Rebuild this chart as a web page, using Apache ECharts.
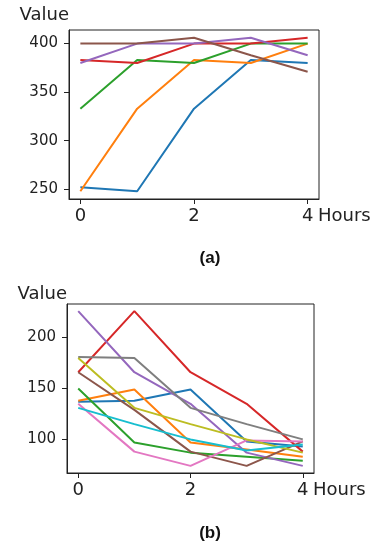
<!DOCTYPE html>
<html lang="en">
  <head>
    <meta charset="UTF-8" />
    <title>Value over hours</title>
    <script src="https://cdn.jsdelivr.net/npm/echarts@6/dist/echarts.min.js"></script>
    <style>
      * {
        margin: 0;
        padding: 0;
      }
      html,
      body {
        background: #fff;
      }
    </style>
  </head>
  <body>
    <div id="charts" style="width: 376px; height: 550px"></div>
    <script>
      var hours = [0, 1, 2, 3, 4];
      var xTicks = [0, 2, 4];
      var yTicksA = [250, 300, 350, 400];
      var yTicksB = [100, 150, 200];

      // panel (a)
      var a1 = [252, 248, 333, 383, 380];
      var a2 = [248, 333, 383, 380, 400];
      var a3 = [333, 383, 380, 400, 400];
      var a4 = [383, 380, 400, 400, 406];
      var a5 = [380, 400, 400, 406, 388];
      var a6 = [400, 400, 406, 388, 371];

      // panel (b)
      var b1 = [137, 138, 149, 98, 93];
      var b2 = [138, 149, 97, 90, 83];
      var b3 = [150, 97, 87, 83, 79];
      var b4 = [166, 226, 166, 135, 88];
      var b5 = [226, 166, 135, 87, 74];
      var b6 = [166, 129, 88, 74, 98];
      var b7 = [135, 88, 74, 99, 98];
      var b8 = [181, 180, 131, 115, 100];
      var b9 = [180, 131, 115, 100, 87];
      var b10 = [131, 115, 100, 89, 95];

      var colors = ["#1f77b4", "#ff7f0e", "#2ca02c", "#d62728", "#9467bd",
        "#8c564b", "#e377c2", "#7f7f7f", "#bcbd22", "#17becf"];

      var font = "DejaVu Sans";
      var dark = "#222";

      function pairs(vals) {
        return vals.map(function (v, i) {
          return [hours[i], v];
        });
      }

      function makeX(idx) {
        return {
          type: "value",
          gridIndex: idx,
          min: -0.2,
          max: 4.2,
          name: "Hours",
          nameLocation: "end",
          nameGap: -1,
          nameTextStyle: {
            color: dark,
            fontFamily: font,
            fontSize: 18,
            verticalAlign: "top",
            align: "left",
            padding: [8, 0, 0, 0],
          },
          axisLine: { show: true, onZero: false, lineStyle: { color: dark } },
          axisTick: { show: true, length: 5, customValues: xTicks, lineStyle: { color: dark } },
          axisLabel: { customValues: xTicks, color: dark, fontFamily: font, fontSize: 18, margin: 8 },
          splitLine: { show: false },
        };
      }

      function makeY(idx, min, max, ticks, gap) {
        return {
          type: "value",
          gridIndex: idx,
          min: min,
          max: max,
          name: "Value",
          nameLocation: "end",
          nameGap: gap,
          nameTextStyle: {
            color: dark,
            fontFamily: font,
            fontSize: 18,
            align: "right",
          },
          axisLine: { show: true, onZero: false, lineStyle: { color: dark } },
          axisTick: { show: true, length: 5, customValues: ticks, lineStyle: { color: dark } },
          axisLabel: { customValues: ticks, color: dark, fontFamily: font, fontSize: 15, margin: 11 },
          splitLine: { show: false },
        };
      }

      var series = [];
      [a1, a2, a3, a4, a5, a6].forEach(function (d, i) {
        series.push({
          type: "line",
          xAxisIndex: 0,
          yAxisIndex: 0,
          data: pairs(d),
          symbol: "none",
          lineStyle: { width: 2, color: colors[i] },
        });
      });
      [b1, b2, b3, b4, b5, b6, b7, b8, b9, b10].forEach(function (d, i) {
        series.push({
          type: "line",
          xAxisIndex: 1,
          yAxisIndex: 1,
          data: pairs(d),
          symbol: "none",
          lineStyle: { width: 2, color: colors[i] },
        });
      });

      var myEcharts = echarts.init(document.getElementById("charts"));
      var options = {
        animation: false,
        title: [
          {
            text: "(a)",
            left: 205,
            top: 245,
            textAlign: "center",
            textStyle: { fontFamily: "Liberation Sans", fontWeight: "bold", fontSize: 17, color: "#111" },
          },
          {
            text: "(b)",
            left: 205,
            top: 520,
            textAlign: "center",
            textStyle: { fontFamily: "Liberation Sans", fontWeight: "bold", fontSize: 17, color: "#111" },
          },
        ],
        grid: [
          { left: 69, top: 30, width: 250, height: 169, show: true, borderColor: dark, borderWidth: 1 },
          { left: 67, top: 304, width: 247, height: 169, show: true, borderColor: dark, borderWidth: 1 },
        ],
        xAxis: [makeX(0), makeX(1)],
        yAxis: [makeY(0, 240, 414, yTicksA, 6), makeY(1, 67, 233, yTicksB, 1)],
        series: series,
      };
      myEcharts.setOption(options);
    </script>
  </body>
</html>
